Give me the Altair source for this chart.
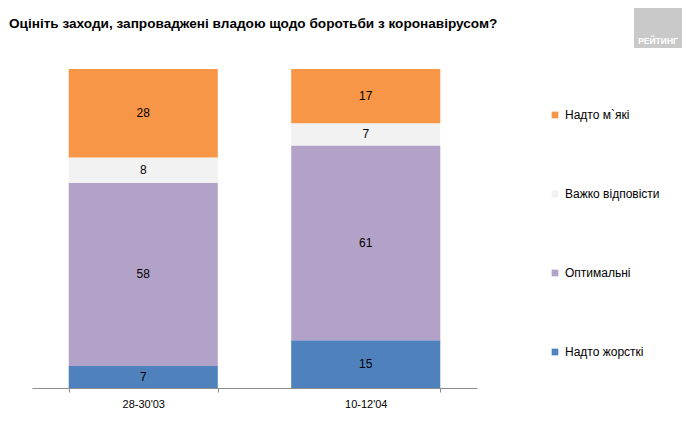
import altair as alt
import pandas as pd

FONT = "Liberation Sans Narrow, Arial Narrow, Liberation Sans, Arial"

periods = ["28-30'03", "10-12'04"]
categories = ["Надто жорсткі", "Оптимальні", "Важко відповісти", "Надто м`які"]
values_first = [7, 58, 8, 28]
values_second = [15, 61, 7, 17]
legend_order = ["Надто м`які", "Важко відповісти", "Оптимальні", "Надто жорсткі"]
legend_colors = ["#F79646", "#F2F2F2", "#B3A2C7", "#4F81BD"]
title_text = "Оцініть заходи, запроваджені владою щодо боротьби з коронавірусом?"
logo_text = "РЕЙТИНГ"

rows = []
for p, vals in zip(periods, [values_first, values_second]):
    for i, (c, v) in enumerate(zip(categories, vals)):
        rows.append({"period": p, "category": c, "value": v, "order": i})
df = pd.DataFrame(rows)

base = alt.Chart(df).transform_stack(
    stack="value",
    groupby=["period"],
    sort=[alt.SortField("order", order="ascending")],
    as_=["y0", "y1"],
    offset="normalize",
).transform_calculate(mid="(datum.y0 + datum.y1) / 2")

x_enc = alt.X(
    "period:N",
    sort=periods,
    scale=alt.Scale(paddingInner=0.33, paddingOuter=0.165),
    axis=alt.Axis(
        title=None,
        labelAngle=0,
        grid=False,
        tickBand="extent",
        domainColor="#8c8c8c",
        tickColor="#8c8c8c",
        tickSize=4,
        labelPadding=6,
        labelFontSize=11,
        labelFont=FONT,
        labelColor="#000000",
    ),
)

bars = base.mark_bar().encode(
    x=x_enc,
    y=alt.Y("y0:Q", scale=alt.Scale(domain=[0, 1]), axis=None),
    y2="y1:Q",
    color=alt.Color(
        "category:N",
        scale=alt.Scale(domain=legend_order, range=legend_colors),
        legend=alt.Legend(
            title=None,
            orient="none",
            legendX=517,
            legendY=40,
            rowPadding=67,
            symbolType="square",
            symbolSize=45,
            symbolStrokeWidth=0,
            labelFontSize=12,
            labelFont=FONT,
            labelColor="#000000",
            labelOffset=4,
            padding=0,
        ),
    ),
)

labels = base.mark_text(fontSize=12, font=FONT, color="#000000").encode(
    x=alt.X("period:N", sort=periods),
    y=alt.Y("mid:Q", scale=alt.Scale(domain=[0, 1]), axis=None),
    text="value:Q",
)

title = alt.Chart(pd.DataFrame({"t": [title_text]})).mark_text(
    align="left", baseline="alphabetic", fontSize=13.6, fontWeight="bold", font=FONT, color="#000000"
).encode(x=alt.value(-23), y=alt.value(-41), text="t:N")

logo_box = alt.Chart(pd.DataFrame({"t": [logo_text]})).mark_rect(color="#C9C9C9").encode(
    x=alt.value(602), x2=alt.value(650), y=alt.value(-69), y2=alt.value(-21)
)
logo = alt.Chart(pd.DataFrame({"t": [logo_text]})).mark_text(
    align="center", baseline="alphabetic", fontSize=8.5, fontWeight="bold", font=FONT, color="#FFFFFF"
).encode(x=alt.value(626), y=alt.value(-25), text="t:N")

chart = (
    alt.layer(bars, labels, title, logo_box, logo)
    .properties(
        width=445,
        height=319,
        padding={"left": 24, "top": 61, "right": 205, "bottom": 43},
        autosize=alt.AutoSizeParams(type="none"),
        background="#FFFFFF",
    )
    .configure_view(strokeWidth=0)
    .configure_axis(grid=False)
)

chart.save("out.html", embed_options={"renderer": "svg", "actions": False})
